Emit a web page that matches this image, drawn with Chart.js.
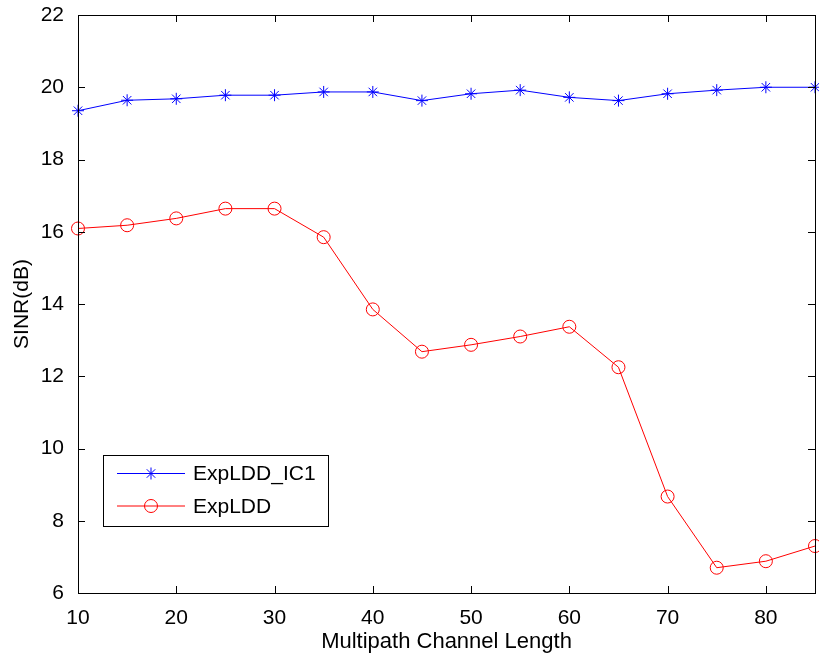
<!DOCTYPE html>
<html>
<head>
<meta charset="utf-8">
<script src="https://cdn.jsdelivr.net/npm/chart.js@4/dist/chart.umd.min.js"></script>
<style>
  html, body { margin: 0; padding: 0; background: #fff; }
  #wrap { width: 819px; height: 662px; position: relative; }
</style>
</head>
<body>
<div id="wrap"><canvas id="myChart"></canvas></div>
<script>
// data
const channelLengths = [10, 15, 20, 25, 30, 35, 40, 45, 50, 55, 60, 65, 70, 75, 80, 85];
const sinrIC1 = [19.35, 19.64, 19.68, 19.78, 19.78, 19.87, 19.87, 19.63, 19.82, 19.92, 19.72, 19.63, 19.82, 19.92, 20.0, 20.0];
const sinrLDD = [16.09, 16.18, 16.37, 16.64, 16.64, 15.85, 13.85, 12.68, 12.87, 13.1, 13.37, 12.25, 8.67, 6.7, 6.88, 7.3];
const xTicks = [10, 20, 30, 40, 50, 60, 70, 80];
const yTicks = [6, 8, 10, 12, 14, 16, 18, 20, 22];
const seriesNames = ['ExpLDD_IC1', 'ExpLDD'];

const FONT = 'Liberation Sans, Arial, sans-serif';

// MATLAB style box with inward ticks + legend inside the axes
const matlabBox = {
    id: 'matlabBox',
    afterDraw(chart) {
        const { ctx, chartArea: a, scales: { x, y } } = chart;
        ctx.save();
        ctx.strokeStyle = '#000';
        ctx.lineWidth = 1;
        ctx.strokeRect(a.left + 0.5, a.top + 0.5, a.right - a.left, a.bottom - a.top);
        const len = 7;
        ctx.beginPath();
        xTicks.forEach(v => {
            const px = Math.round(x.getPixelForValue(v)) + 0.5;
            ctx.moveTo(px, a.bottom); ctx.lineTo(px, a.bottom - len);
            ctx.moveTo(px, a.top); ctx.lineTo(px, a.top + len);
        });
        yTicks.forEach(v => {
            const py = Math.round(y.getPixelForValue(v)) + 0.5;
            ctx.moveTo(a.left, py); ctx.lineTo(a.left + len, py);
            ctx.moveTo(a.right, py); ctx.lineTo(a.right - len, py);
        });
        ctx.stroke();

        // legend
        const lx = 103.5, ly = 455.5, lw = 225, lh = 71;
        ctx.fillStyle = '#fff';
        ctx.fillRect(lx, ly, lw, lh);
        ctx.strokeRect(lx, ly, lw, lh);
        chart.data.datasets.forEach((ds, i) => {
            const cy = 473.5 + i * 32.5;
            ctx.strokeStyle = ds.borderColor;
            ctx.fillStyle = 'rgba(0,0,0,0)';
            ctx.beginPath();
            ctx.moveTo(117, cy); ctx.lineTo(185, cy);
            ctx.stroke();
            Chart.helpers.drawPoint(ctx, {
                pointStyle: ds.pointStyle, radius: ds.pointRadius, borderWidth: 1
            }, 151, cy);
            ctx.fillStyle = '#000';
            ctx.font = '21px ' + FONT;
            ctx.textBaseline = 'middle';
            ctx.fillText(ds.label, 193, cy + 1);
        });
        ctx.restore();
    }
};

const ctx = document.getElementById('myChart').getContext('2d');
const chart = new Chart(ctx, {
    type: 'line',
    data: {
        datasets: [
            {
                label: seriesNames[0],
                data: channelLengths.map((v, i) => ({ x: v, y: sinrIC1[i] })),
                borderColor: '#0000ff',
                backgroundColor: 'transparent',
                borderWidth: 1,
                pointStyle: 'star',
                pointRadius: 6,
                pointBorderColor: '#0000ff',
                pointBorderWidth: 1,
                tension: 0
            },
            {
                label: seriesNames[1],
                data: channelLengths.map((v, i) => ({ x: v, y: sinrLDD[i] })),
                borderColor: '#ff0000',
                backgroundColor: 'transparent',
                borderWidth: 1,
                pointStyle: 'circle',
                pointRadius: 6.5,
                pointBorderColor: '#ff0000',
                pointBackgroundColor: 'transparent',
                pointBorderWidth: 1,
                tension: 0
            }
        ]
    },
    options: {
        responsive: true,
        maintainAspectRatio: false,
        animation: false,
        clip: false,
        layout: { autoPadding: false, padding: { top: 15, right: 4, left: 0, bottom: 0 } },
        plugins: { legend: { display: false }, tooltip: { enabled: false } },
        scales: {
            x: {
                type: 'linear',
                min: 10, max: 85,
                grid: { display: false },
                border: { display: false },
                afterBuildTicks: s => { s.ticks = xTicks.map(v => ({ value: v })); },
                afterFit: s => { s.height = 69; s.paddingLeft = 0; s.paddingRight = 0; },
                ticks: { color: '#000', font: { family: FONT, size: 21 }, padding: 5, maxRotation: 0 },
                title: { display: true, text: 'Multipath Channel Length', color: '#000', font: { family: FONT, size: 22 }, padding: { top: 0, bottom: 7 } }
            },
            y: {
                min: 6, max: 22,
                grid: { display: false },
                border: { display: false },
                afterBuildTicks: s => { s.ticks = yTicks.map(v => ({ value: v })); },
                afterFit: s => { s.width = 78; s.paddingTop = 0; s.paddingBottom = 0; },
                ticks: { color: '#000', font: { family: FONT, size: 21 }, padding: 6 },
                title: { display: true, text: 'SINR(dB)', color: '#000', font: { family: FONT, size: 21 }, padding: { top: 10, bottom: 4 } }
            }
        }
    },
    plugins: [matlabBox]
});
</script>
</body>
</html>
